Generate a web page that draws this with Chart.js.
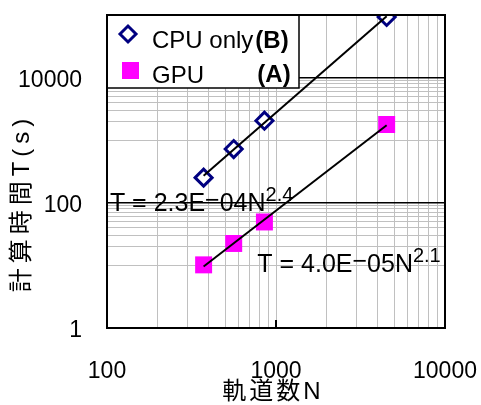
<!DOCTYPE html>
<html>
<head>
<meta charset="utf-8">
<script src="https://cdn.jsdelivr.net/npm/chart.js@4.4.1/dist/chart.umd.min.js"></script>
<style>
  html, body { margin: 0; padding: 0; background: #fff; }
</style>
</head>
<body>
<canvas id="myChart" width="481" height="405"></canvas>
<script>
// 軌道数N (x) と計算時間T(s) (y)
const orbitals = [373, 562, 854, 4516];
const cpuTimes = [252, 723, 2049, 92900];
const gpuTimes = [10.2, 22.4, 49.4, 1782];

// 目盛ラベル
const xTickLabels = [100, 1000, 10000];
const yTickLabels = [1, 100, 10000];

// 補助目盛線
const xGridValues = [100, 200, 300, 400, 500, 600, 700, 800, 900,
    1000, 2000, 3000, 4000, 5000, 6000, 7000, 8000, 9000, 10000];
const yGridValues = [1, 10, 20, 30, 40, 50, 60, 70, 80, 90, 100,
    1000, 2000, 3000, 4000, 5000, 6000, 7000, 8000, 9000, 10000, 100000];
const yBlackLines = [1, 100, 10000, 100000];

// 近似式のラベル
const cpuEquation = ['T = 2.3E\u221204N', '2.4'];
const gpuEquation = ['T = 4.0E\u221205N', '2.1'];

const GRAY = '#c0c0c0';
const FONT = '"Liberation Sans", Arial, sans-serif';
const TITLE_FONT = '"Liberation Sans", "Noto Sans CJK JP", sans-serif';

// べき乗近似 (Excel の累乗近似と同じく log-log で最小二乗)
function powerFit(xs, ys) {
    const lx = xs.map(Math.log10);
    const ly = ys.map(Math.log10);
    const mx = lx.reduce((a, b) => a + b, 0) / lx.length;
    const my = ly.reduce((a, b) => a + b, 0) / ly.length;
    let sxy = 0, sxx = 0;
    for (let i = 0; i < lx.length; i++) {
        sxy += (lx[i] - mx) * (ly[i] - my);
        sxx += (lx[i] - mx) * (lx[i] - mx);
    }
    const b = sxy / sxx;
    const a = my - b * mx;
    return x => Math.pow(10, a + b * Math.log10(x));
}

function trendPoints(xs, ys) {
    const f = powerFit(xs, ys);
    const lo = Math.min(...xs), hi = Math.max(...xs);
    return [{ x: lo, y: f(lo) }, { x: hi, y: f(hi) }];
}

function toPoints(xs, ys) {
    return xs.map((x, i) => ({ x: x, y: ys[i] }));
}

// 指数付きの式 (マイナス記号は少し上げて描く)
function drawEquation(ctx, eq, x, y) {
    ctx.save();
    ctx.fillStyle = '#000';
    ctx.textBaseline = 'alphabetic';
    ctx.textAlign = 'left';
    ctx.font = '25px ' + FONT;
    let cx = x;
    eq[0].split(/(\u2212)/).forEach(part => {
        ctx.fillText(part, cx, part === '\u2212' ? y - 3 : y);
        cx += ctx.measureText(part).width;
    });
    ctx.font = '20px ' + FONT;
    ctx.fillText(eq[1], cx, y - 10);
    ctx.restore();
}

const decorPlugin = {
    id: 'decor',
    afterDraw(chart) {
        const ctx = chart.ctx;
        const area = chart.chartArea;
        const xs = chart.scales.x;
        const ys = chart.scales.y;

        // 近似式
        drawEquation(ctx, cpuEquation, xs.getPixelForValue(104), ys.getPixelForValue(107) + 10);
        drawEquation(ctx, gpuEquation, xs.getPixelForValue(775), ys.getPixelForValue(11.3) + 10);

        // 凡例
        ctx.save();
        const lx = area.left, ly = area.top;
        ctx.fillStyle = '#fff';
        ctx.fillRect(lx, ly, 192, 73);
        ctx.strokeStyle = '#000';
        ctx.lineWidth = 1.5;
        ctx.strokeRect(lx, ly, 192, 73);

        // diamond
        ctx.beginPath();
        const dx = lx + 21, dy = ly + 19, r = 8;
        ctx.moveTo(dx - r, dy);
        ctx.lineTo(dx, dy - r);
        ctx.lineTo(dx + r, dy);
        ctx.lineTo(dx, dy + r);
        ctx.closePath();
        ctx.fillStyle = '#fff';
        ctx.fill();
        ctx.strokeStyle = '#000080';
        ctx.lineWidth = 3;
        ctx.stroke();

        // square
        ctx.fillStyle = '#ff00ff';
        ctx.fillRect(lx + 15, ly + 47, 17, 17);

        ctx.fillStyle = '#000';
        ctx.textBaseline = 'middle';
        ctx.textAlign = 'left';
        ctx.font = '24px ' + FONT;
        ctx.fillText('CPU only', lx + 45, ly + 26);
        const w = ctx.measureText('CPU only').width;
        ctx.font = 'bold 24px ' + FONT;
        ctx.fillText('(B)', lx + 45 + w + 2, ly + 26);
        const rEdge = lx + 45 + w + 2 + ctx.measureText('(B)').width;
        ctx.font = '24px ' + FONT;
        ctx.fillText('GPU', lx + 45, ly + 61);
        ctx.font = 'bold 24px ' + FONT;
        ctx.textAlign = 'right';
        ctx.fillText('(A)', rEdge + 2, ly + 60);
        ctx.restore();

        // 枠と内向き目盛
        ctx.save();
        ctx.strokeStyle = '#000';
        ctx.lineWidth = 2;
        ctx.strokeRect(area.left, area.top, area.right - area.left, area.bottom - area.top);
        ctx.beginPath();
        xTickLabels.forEach(v => {
            const px = Math.round(xs.getPixelForValue(v));
            ctx.moveTo(px, area.bottom);
            ctx.lineTo(px, area.bottom - 8);
        });
        ctx.stroke();
        ctx.restore();

        // 軸タイトル
        ctx.save();
        ctx.fillStyle = '#000';
        ctx.textBaseline = 'middle';
        ctx.textAlign = 'center';
        ctx.font = '24px ' + TITLE_FONT;
        ctx.letterSpacing = '3px';
        ctx.fillText('軌道数N', 273, 392);
        ctx.letterSpacing = '5px';
        ctx.translate(22, 205);
        ctx.rotate(-Math.PI / 2);
        ctx.fillText('計算時間T(s)', 2, 0);
        ctx.letterSpacing = '0px';
        ctx.restore();
    }
};

const ctx = document.getElementById('myChart').getContext('2d');
const myChart = new Chart(ctx, {
    type: 'scatter',
    data: {
        datasets: [
            {
                label: 'CPU trend',
                data: trendPoints(orbitals, cpuTimes),
                showLine: true,
                borderColor: '#000',
                borderWidth: 2,
                pointRadius: 0,
                order: 0,
            },
            {
                label: 'GPU trend',
                data: trendPoints(orbitals, gpuTimes),
                showLine: true,
                borderColor: '#000',
                borderWidth: 2,
                pointRadius: 0,
                order: 0,
            },
            {
                label: 'CPU only(B)',
                data: toPoints(orbitals, cpuTimes),
                pointStyle: 'rectRot',
                pointRadius: 8.5,
                pointBorderWidth: 3,
                pointBorderColor: '#000080',
                pointBackgroundColor: '#fff',
                order: 1,
            },
            {
                label: 'GPU (A)',
                data: toPoints(orbitals, gpuTimes),
                pointStyle: 'rect',
                pointRadius: 12,
                pointBorderWidth: 0,
                pointBackgroundColor: '#ff00ff',
                pointBorderColor: '#ff00ff',
                order: 1,
            },
        ],
    },
    options: {
        responsive: false,
        animation: false,
        layout: { padding: { top: 15, right: 36, left: 0, bottom: 0 } },
        plugins: {
            legend: { display: false },
            tooltip: { enabled: false },
        },
        scales: {
            x: {
                type: 'logarithmic',
                min: 100,
                max: 10000,
                afterBuildTicks: scale => {
                    scale.ticks = xGridValues.map(v => ({ value: v }));
                },
                afterFit: scale => {
                    scale.height = 77;
                    scale.paddingLeft = 0;
                    scale.paddingRight = 0;
                },
                ticks: {
                    autoSkip: false,
                    maxRotation: 0,
                    minRotation: 0,
                    padding: 30,
                    color: '#000',
                    font: { family: FONT, size: 23 },
                    callback: v => xTickLabels.includes(v) ? String(v) : '',
                },
                grid: {
                    color: GRAY,
                    lineWidth: 1,
                    drawTicks: false,
                },
                border: { display: false },
            },
            y: {
                type: 'logarithmic',
                min: 1,
                max: 100000,
                afterBuildTicks: scale => {
                    scale.ticks = yGridValues.map(v => ({ value: v }));
                },
                afterFit: scale => {
                    scale.width = 107;
                    scale.paddingTop = 0;
                    scale.paddingBottom = 0;
                },
                ticks: {
                    autoSkip: false,
                    padding: 25,
                    labelOffset: 3,
                    color: '#000',
                    font: { family: FONT, size: 23 },
                    callback: v => yTickLabels.includes(v) ? String(v) : '',
                },
                grid: {
                    color: c => yBlackLines.includes(c.tick.value) ? '#000' : GRAY,
                    lineWidth: c => yBlackLines.includes(c.tick.value) ? 1.5 : 1,
                    drawTicks: false,
                },
                border: { display: false },
            },
        },
    },
    plugins: [decorPlugin],
});
</script>
</body>
</html>
